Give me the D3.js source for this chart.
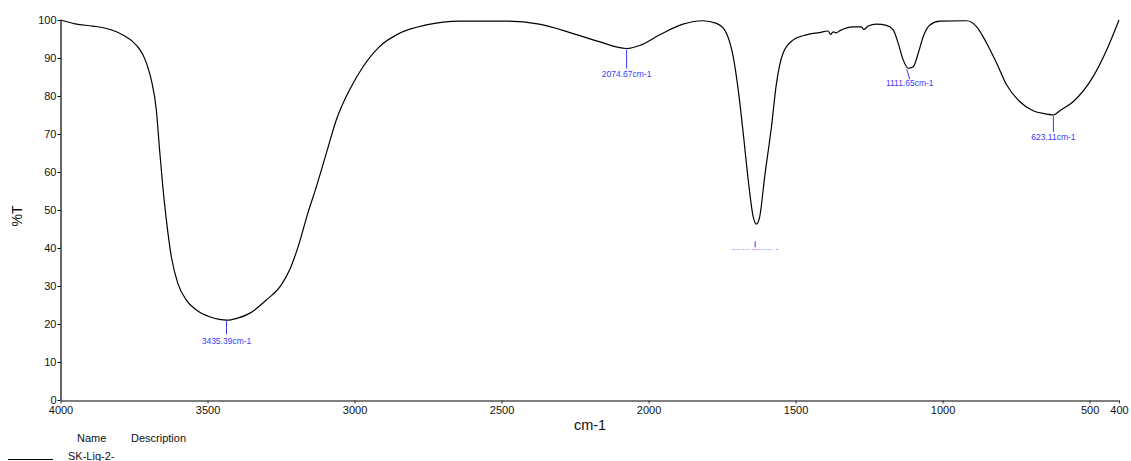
<!DOCTYPE html>
<html>
<head>
<meta charset="utf-8">
<script src="https://cdn.jsdelivr.net/npm/d3@7/dist/d3.min.js"></script>
<style>
  html, body { margin: 0; padding: 0; background: #fff; }
  svg { display: block; font-family: "Liberation Sans", Arial, sans-serif; }
</style>
</head>
<body>
<svg id="chart" width="1131" height="461"></svg>
<script>
// ---- data ----
const wavenumbers = [4000, 3950, 3890, 3850, 3810, 3780, 3754, 3730, 3714, 3700, 3691, 3674, 3663, 3652, 3640, 3623, 3601, 3572, 3538, 3493, 3460, 3435, 3400, 3357, 3300, 3249, 3221, 3192, 3159, 3130, 3096, 3062, 3017, 2971, 2915, 2847, 2756, 2642, 2485, 2372, 2259, 2168, 2075, 2030, 1962, 1883, 1815, 1769, 1745, 1735, 1712, 1695, 1678, 1661, 1644, 1633, 1622, 1605, 1582, 1565, 1543, 1509, 1463, 1418, 1389, 1381, 1372, 1362, 1349, 1305, 1276, 1268, 1253, 1225, 1191, 1168, 1151, 1134, 1117, 1100, 1083, 1066, 1043, 1009, 918, 884, 850, 816, 782, 737, 692, 650, 623, 600, 556, 488, 442, 400];
const transmittance = [100, 99.0, 98.4, 97.9, 96.9, 95.7, 94.3, 92.2, 89.9, 86.8, 84.2, 76.3, 65.8, 56.1, 47.4, 37.7, 30.7, 26.3, 23.7, 21.9, 21.2, 21.0, 21.5, 22.8, 26.3, 30.3, 34.2, 40.3, 49.1, 56.1, 64.9, 73.7, 81.6, 87.7, 93.0, 96.5, 98.7, 99.7, 99.7, 98.9, 96.5, 94.3, 92.5, 93.3, 96.1, 98.9, 99.8, 99.1, 97.8, 96.5, 90.3, 81.6, 70.2, 57.9, 48.2, 46.3, 48.2, 58.8, 71.9, 83.3, 91.2, 94.7, 96.1, 96.7, 97.1, 96.2, 96.9, 96.6, 97.2, 98.2, 98.2, 97.5, 98.4, 98.9, 98.6, 97.4, 93.9, 89.5, 87.3, 87.7, 91.2, 95.6, 98.7, 99.7, 99.8, 98.2, 93.9, 88.6, 82.9, 78.5, 76.1, 75.3, 75.0, 76.2, 78.5, 85.1, 92.1, 100];

const xTicks = [4000, 3500, 3000, 2500, 2000, 1500, 1000, 500, 400];
const yTicks = [0, 10, 20, 30, 40, 50, 60, 70, 80, 90, 100];

const peakLabels = ["3435.39cm-1", "2074.67cm-1", "1637.50cm-1", "1111.65cm-1", "623.11cm-1"];
const peakWn = [3435.39, 2074.67, 1637.50, 1111.65, 623.11];
const peakT = [21.0, 92.5, 42.0, 87.3, 75.0];

const legendHeaders = ["Name", "Description"];
const legendNames = ["SK-Liq-2-"];

// ---- layout ----
const svg = d3.select("#chart");
const x = d3.scaleLinear().domain([4000, 400]).range([60.5, 1119]);
const y = d3.scaleLinear().domain([0, 100]).range([400, 20]);

// y axis
const gy = svg.append("g").attr("transform", "translate(60.5,0)")
  .call(d3.axisLeft(y).tickValues(yTicks).tickSize(3).tickPadding(1).tickSizeOuter(0));
gy.select(".domain").attr("stroke", "#000").attr("stroke-width", 1.2);
gy.selectAll(".tick line").attr("stroke", "#000");
gy.selectAll(".tick text").attr("font-size", 11).attr("fill", "#111")
  .attr("font-family", "Liberation Sans, Arial, sans-serif");

// x axis
const gx = svg.append("g").attr("transform", "translate(0,400.5)")
  .call(d3.axisBottom(x).tickValues(xTicks).tickFormat(d3.format("d")).tickSize(3).tickPadding(3).tickSizeOuter(0));
gx.select(".domain").attr("stroke", "#555").attr("stroke-width", 1.6);
gx.selectAll(".tick line").attr("stroke", "#333");
gx.selectAll(".tick text").attr("font-size", 11).attr("fill", "#111")
  .attr("font-family", "Liberation Sans, Arial, sans-serif");

// axis titles
svg.append("text").attr("x", 590).attr("y", 430).attr("text-anchor", "middle")
  .attr("font-size", 14.5).attr("fill", "#111").text("cm-1");
svg.append("text").attr("transform", "translate(22,216) rotate(-90)").attr("text-anchor", "middle")
  .attr("font-size", 14).attr("fill", "#111").text("%T");

// spectrum line
const pts = wavenumbers.map((w, i) => [w, transmittance[i]]);
svg.append("path").datum(pts)
  .attr("fill", "none").attr("stroke", "#000").attr("stroke-width", 1.2)
  .attr("d", d3.line().x(d => x(d[0])).y(d => y(d[1])).curve(d3.curveMonotoneX));

// peak labels
const blue = "#3a3aff";
const lineLen = [13, 19, 6, 10, 16];
const textGap = [10, 8, 3, 7, 8];
peakWn.forEach((w, i) => {
  const px = x(w), py = y(peakT[i]) + 1;
  const slant = i === 3 ? 3 : 0;
  svg.append("line").attr("x1", px - slant).attr("y1", py).attr("x2", px).attr("y2", py + lineLen[i])
    .attr("stroke", blue).attr("stroke-width", 1);
  const t = svg.append("text").attr("text-anchor", "middle").attr("font-size", 8.5).attr("fill", blue)
    .text(peakLabels[i]);
  if (i === 2) {
    t.attr("transform", `translate(${px},${py + lineLen[i] + textGap[i]}) scale(1,0.15)`)
      .attr("opacity", 0.7).attr("font-size", 8.2);
  } else {
    t.attr("x", px).attr("y", py + lineLen[i] + textGap[i]);
  }
});

// legend
svg.append("text").attr("x", 77).attr("y", 442).attr("font-size", 11).attr("fill", "#111").text(legendHeaders[0]);
svg.append("text").attr("x", 131).attr("y", 442).attr("font-size", 11).attr("fill", "#111").text(legendHeaders[1]);
svg.append("line").attr("x1", 8).attr("x2", 53).attr("y1", 459.5).attr("y2", 459.5).attr("stroke", "#000").attr("stroke-width", 1);
svg.append("text").attr("x", 68).attr("y", 460).attr("font-size", 11).attr("fill", "#111").text(legendNames[0]);
</script>
</body>
</html>
